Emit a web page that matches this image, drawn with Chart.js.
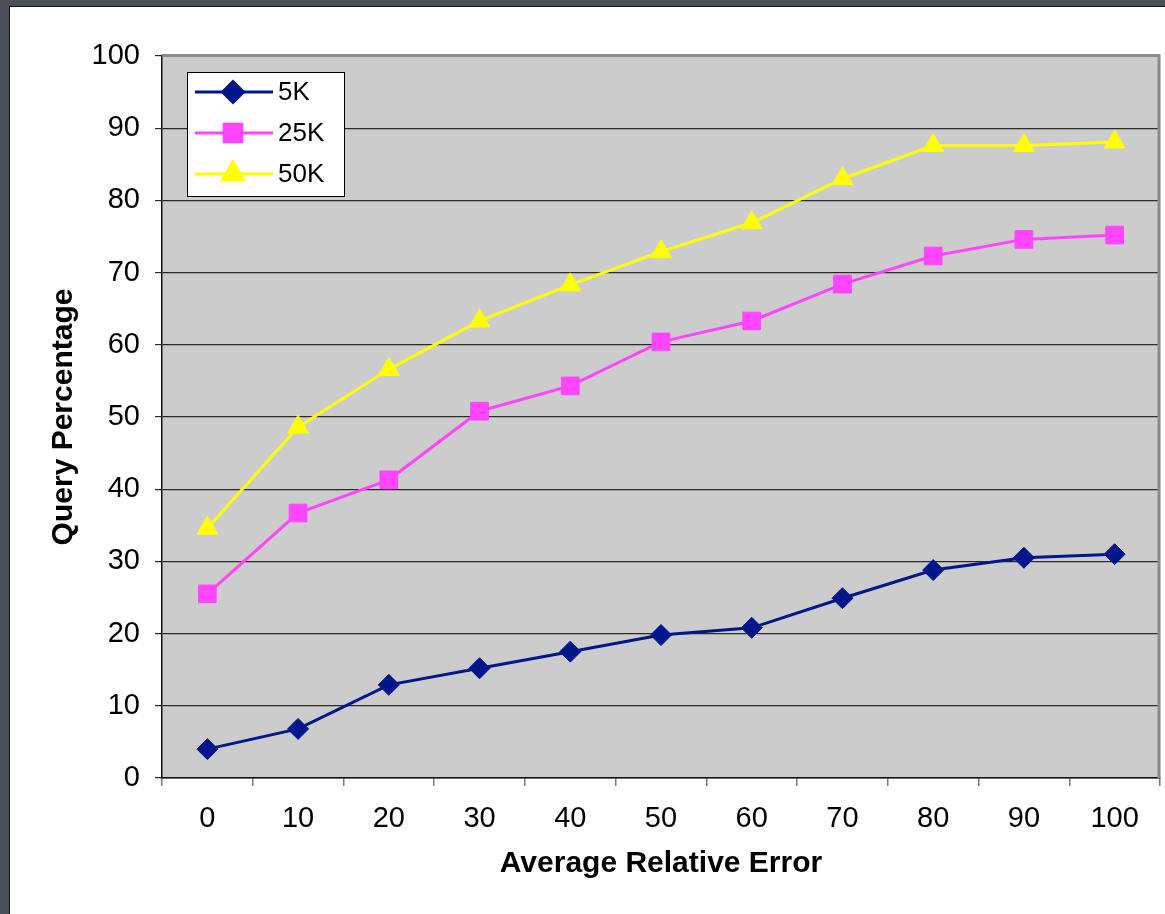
<!DOCTYPE html>
<html>
<head>
<meta charset="utf-8">
<script src="https://cdn.jsdelivr.net/npm/chart.js"></script>
<style>
  html, body { margin: 0; padding: 0; width: 1165px; height: 914px; overflow: hidden; background: #4a4f5a; }
  #panel { position: absolute; left: 9px; top: 6px; width: 1160px; height: 912px; background: #ffffff; border: 1px solid #151515; box-sizing: border-box; }
  #c { position: absolute; left: 0; top: 0; }
</style>
</head>
<body>
<div id="panel"></div>
<canvas id="c" width="1165" height="914"></canvas>
<script>
// ---- data ----
const categories = ['0', '10', '20', '30', '40', '50', '60', '70', '80', '90', '100'];
const seriesNames = ['5K', '25K', '50K'];
const values5K  = [4.0, 6.8, 12.9, 15.2, 17.5, 19.8, 20.8, 24.9, 28.8, 30.5, 31.0];
const values25K = [25.5, 36.7, 41.3, 50.8, 54.3, 60.4, 63.3, 68.4, 72.3, 74.6, 75.2];
const values50K = [34.6, 48.6, 56.6, 63.3, 68.3, 72.9, 76.9, 83.0, 87.6, 87.6, 88.1];
const yTickValues = [0, 10, 20, 30, 40, 50, 60, 70, 80, 90, 100];
const xTitle = 'Average Relative Error';
const yTitle = 'Query Percentage';

const FONT = '"Liberation Sans", Arial, Helvetica, sans-serif';

const plotBg = {
  id: 'plotBg',
  beforeDraw(chart) {
    const {ctx, chartArea: a} = chart;
    ctx.save();
    ctx.fillStyle = '#cccccc';
    ctx.fillRect(a.left, a.top, a.right - a.left, a.bottom - a.top);
    ctx.restore();
  },
  afterDatasetsDraw(chart) {
    const {ctx, chartArea: a} = chart;
    ctx.save();
    ctx.strokeStyle = '#8a8a8a';
    ctx.lineWidth = 3;
    ctx.beginPath();
    ctx.moveTo(a.left, a.top - 0.5);
    ctx.lineTo(a.right - 1, a.top - 0.5);
    ctx.lineTo(a.right - 1, a.bottom);
    ctx.stroke();
    ctx.restore();
  }
};

const boxLegend = {
  id: 'boxLegend',
  afterDraw(chart) {
    const {ctx} = chart;
    const x0 = 187.5, y0 = 72.5, w = 157, h = 124;
    ctx.save();
    ctx.fillStyle = '#ffffff';
    ctx.fillRect(x0, y0, w, h);
    ctx.strokeStyle = '#000000';
    ctx.lineWidth = 1;
    ctx.strokeRect(x0, y0, w, h);
    const rows = [92, 133, 174];
    chart.data.datasets.forEach((ds, i) => {
      const y = rows[i];
      ctx.strokeStyle = ds.borderColor;
      ctx.lineWidth = ds.borderWidth;
      ctx.beginPath();
      ctx.moveTo(195, y);
      ctx.lineTo(273, y);
      ctx.stroke();
      Chart.helpers.drawPoint(ctx, {
        pointStyle: ds.pointStyle,
        radius: ds.pointRadius,
        rotation: 0,
        borderWidth: 1
      }, 233, y);
      ctx.fillStyle = ds.pointBackgroundColor;
      ctx.fill();
      ctx.fillStyle = '#000000';
      ctx.font = '26px ' + FONT;
      ctx.textBaseline = 'middle';
      ctx.textAlign = 'left';
      ctx.fillText(ds.label, 278, y + 1);
    });
    ctx.restore();
  }
};

function makeDataset(label, data, color, style, radius) {
  return {
    label, data,
    borderColor: color,
    backgroundColor: color,
    pointBackgroundColor: color,
    pointBorderColor: color,
    pointBorderWidth: 1,
    pointStyle: style,
    pointRadius: radius,
    pointHoverRadius: radius,
    borderWidth: 3,
    tension: 0,
    fill: false
  };
}

new Chart(document.getElementById('c'), {
  type: 'line',
  data: {
    labels: categories,
    datasets: [
      makeDataset(seriesNames[0], values5K, '#00168c', 'rectRot', 10.5),
      makeDataset(seriesNames[1], values25K, '#ff45ff', 'rect', 12.5),
      makeDataset(seriesNames[2], values50K, '#ffff00', 'triangle', 12)
    ]
  },
  options: {
    responsive: false,
    animation: false,
    events: [],
    layout: { autoPadding: false, padding: { left: 10, top: 56, right: 5, bottom: 0 } },
    plugins: { legend: { display: false }, tooltip: { enabled: false } },
    scales: {
      x: {
        type: 'category',
        offset: true,
        grid: { offset: true, drawOnChartArea: false, drawTicks: true, tickLength: 8, color: '#777777', lineWidth: 1.5 },
        border: { display: true, color: '#111111', width: 1.5 },
        ticks: { color: '#000000', font: { family: FONT, size: 29 }, padding: 16, maxRotation: 0, autoSkip: false },
        title: { display: true, text: xTitle, color: '#000000', font: { family: FONT, size: 30, weight: 'bold' }, padding: { top: 0, bottom: 32 } },
        afterFit(scale) { scale.height = 136; scale.paddingLeft = 0; scale.paddingRight = 0; }
      },
      y: {
        min: 0, max: 100,
        afterBuildTicks(scale) { scale.ticks = yTickValues.map(v => ({ value: v })); },
        grid: { drawTicks: true, tickLength: 7, color: '#2a2a2a', lineWidth: 1.2 },
        border: { display: true, color: '#111111', width: 1.5 },
        ticks: { color: '#000000', font: { family: FONT, size: 29 }, padding: 15 },
        title: { display: true, text: yTitle, color: '#000000', font: { family: FONT, size: 30, weight: 'bold' }, padding: { top: 36, bottom: 0 } },
        afterFit(scale) { scale.width = 152; scale.paddingTop = 0; scale.paddingBottom = 0; }
      }
    }
  },
  plugins: [plotBg, boxLegend]
});
</script>
</body>
</html>
